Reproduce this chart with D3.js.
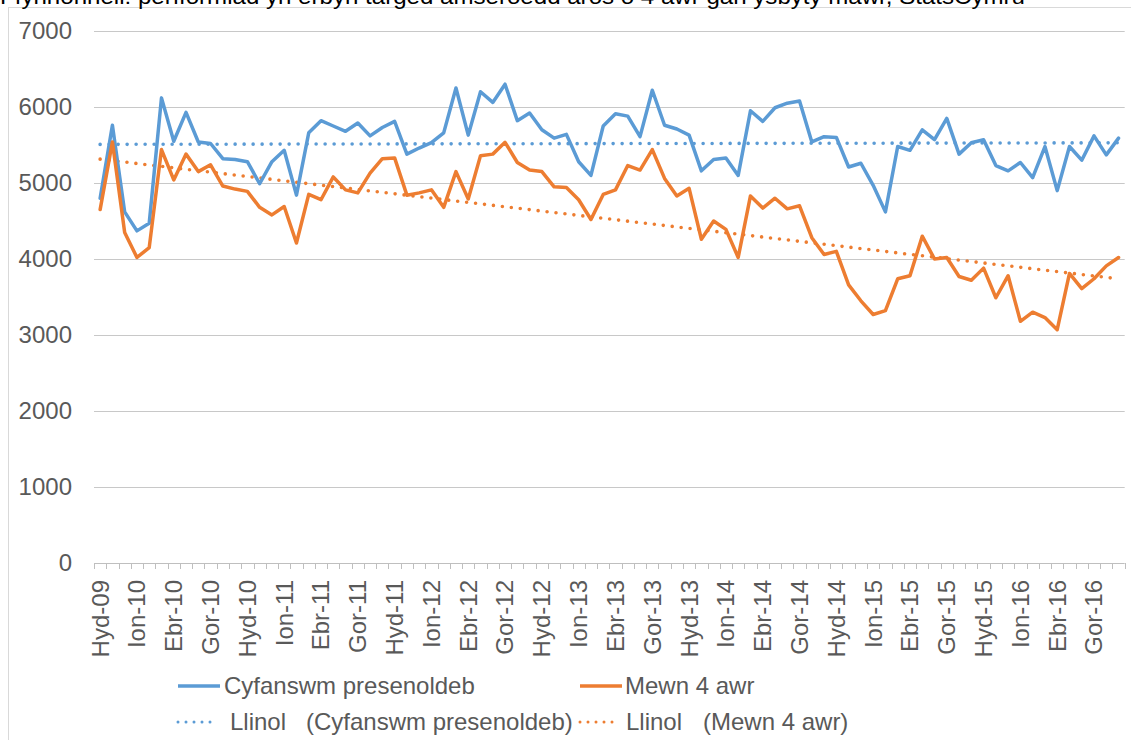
<!DOCTYPE html>
<html>
<head>
<meta charset="utf-8">
<script src="https://cdn.jsdelivr.net/npm/d3@7"></script>
<style>
  body { margin: 0; background: #fff; }
  svg { display: block; font-family: "Liberation Sans", Arial, sans-serif; }
</style>
</head>
<body>
<div id="chart"></div>
<script>
const months = [
  "Hyd-09","Tach-09","Rhag-09",
  "Ion-10","Chwe-10","Maw-10","Ebr-10","Mai-10","Meh-10","Gor-10","Awst-10","Medi-10","Hyd-10","Tach-10","Rhag-10",
  "Ion-11","Chwe-11","Maw-11","Ebr-11","Mai-11","Meh-11","Gor-11","Awst-11","Medi-11","Hyd-11","Tach-11","Rhag-11",
  "Ion-12","Chwe-12","Maw-12","Ebr-12","Mai-12","Meh-12","Gor-12","Awst-12","Medi-12","Hyd-12","Tach-12","Rhag-12",
  "Ion-13","Chwe-13","Maw-13","Ebr-13","Mai-13","Meh-13","Gor-13","Awst-13","Medi-13","Hyd-13","Tach-13","Rhag-13",
  "Ion-14","Chwe-14","Maw-14","Ebr-14","Mai-14","Meh-14","Gor-14","Awst-14","Medi-14","Hyd-14","Tach-14","Rhag-14",
  "Ion-15","Chwe-15","Maw-15","Ebr-15","Mai-15","Meh-15","Gor-15","Awst-15","Medi-15","Hyd-15","Tach-15","Rhag-15",
  "Ion-16","Chwe-16","Maw-16","Ebr-16","Mai-16","Meh-16","Gor-16","Awst-16","Medi-16"
];

// Cyfanswm presenoldeb (total attendances)
const totalAttendance = [
  4800,5760,4620,4370,4470,6120,5550,5930,5540,5520,
  5320,5310,5280,4990,5280,5430,4840,5660,5820,5750,
  5680,5790,5620,5730,5810,5380,5460,5530,5660,6250,
  5630,6200,6060,6300,5820,5920,5700,5590,5640,5280,
  5100,5750,5910,5880,5610,6220,5760,5710,5630,5160,
  5310,5330,5100,5950,5810,5990,6050,6080,5540,5610,
  5600,5210,5260,4970,4620,5480,5430,5700,5570,5850,
  5380,5530,5570,5230,5160,5270,5070,5480,4900,5480,
  5300,5620,5370,5590
];

// Mewn 4 awr (within 4 hours)
const within4Hours = [
  4650,5540,4350,4020,4150,5440,5040,5380,5150,5240,
  4960,4920,4890,4680,4580,4690,4210,4850,4780,5080,
  4910,4870,5130,5320,5330,4840,4870,4910,4680,5150,
  4790,5360,5380,5535,5270,5170,5150,4950,4940,4780,
  4520,4850,4910,5230,5170,5440,5060,4830,4930,4260,
  4500,4390,4020,4830,4670,4800,4660,4700,4280,4060,
  4100,3660,3450,3270,3320,3740,3780,4300,4000,4020,
  3770,3720,3880,3490,3780,3180,3300,3230,3070,3810,
  3610,3740,3910,4020
];

const yTicks = [0, 1000, 2000, 3000, 4000, 5000, 6000, 7000];

const titleText = "Ffynhonnell: perfformiad yn erbyn targed amseroedd aros o 4 awr gan ysbyty mawr, StatsCymru";
const blue = "#5B9BD5", orange = "#ED7D31";

const margin = ({top: 31, right: 6.3, bottom: 177, left: 94});
const W = 1131, H = 740;
const width = W - margin.left - margin.right,
      height = H - margin.top - margin.bottom;

const root = d3.select("#chart")
    .append("svg")
    .attr("width", W)
    .attr("height", H);

// outer chart border
root.append("rect")
    .attr("x", 8.5).attr("y", 7.5)
    .attr("width", W + 20).attr("height", H + 20)
    .attr("fill", "none")
    .attr("stroke", "#d9d9d9");

// title sits partly above the top edge, as in the source picture
root.append("text")
    .attr("x", 0).attr("y", 4)
    .attr("font-size", 22)
    .attr("fill", "#000")
    .attr("textLength", 1025)
    .attr("lengthAdjust", "spacingAndGlyphs")
    .text(titleText);

const svg = root.append("g")
    .attr("transform", `translate(${margin.left},${margin.top})`);

const xScale = d3.scaleBand()
    .domain(months)
    .range([0, width])
    .padding(0);
const yScale = d3.scaleLinear()
    .domain([0, 7000])
    .range([height, 0]);
const cx = i => xScale(months[i]) + xScale.bandwidth() / 2;

// gridlines
svg.append("g")
    .selectAll("line")
    .data(yTicks.filter(d => d > 0))
    .join("line")
    .attr("x1", 0).attr("x2", width)
    .attr("y1", d => Math.round(yScale(d)) + 0.5)
    .attr("y2", d => Math.round(yScale(d)) + 0.5)
    .attr("stroke", "#c8c8c8")
    .attr("stroke-width", 1);

// y axis labels
let yAxis = d3.axisLeft(yScale)
    .tickValues(yTicks)
    .tickFormat(d3.format("d"))
    .tickSize(0)
    .tickPadding(22);
svg.append("g")
    .attr("class", "axis y-axis")
    .call(yAxis)
    .call(g => g.select(".domain").remove())
    .selectAll("text")
    .attr("font-size", 24)
    .attr("font-family", "Liberation Sans, Arial, sans-serif")
    .attr("fill", "#595959");

// x axis line + monthly tick marks at band edges
const xAxisG = svg.append("g")
    .attr("class", "axis x-axis")
    .attr("transform", `translate(0, ${height})`);
xAxisG.append("line")
    .attr("x1", 0).attr("x2", width)
    .attr("y1", 0.5).attr("y2", 0.5)
    .attr("stroke", "#bfbfbf");
xAxisG.selectAll(".tick-mark")
    .data(months.concat(["_end"]))
    .join("line")
    .attr("class", "tick-mark")
    .attr("x1", (d, i) => Math.round(i < months.length ? xScale(d) : width) + 0.5)
    .attr("x2", (d, i) => Math.round(i < months.length ? xScale(d) : width) + 0.5)
    .attr("y1", 0).attr("y2", 6)
    .attr("stroke", "#bfbfbf");
xAxisG.selectAll(".x-label")
    .data(months.filter((d, i) => i % 3 === 0))
    .join("text")
    .attr("class", "x-label")
    .attr("transform", d => `translate(${xScale(d) + xScale.bandwidth() / 2}, 17) rotate(-90)`)
    .attr("dy", "0.35em")
    .attr("text-anchor", "end")
    .attr("font-size", 24)
    .attr("fill", "#595959")
    .text(d => d);

// linear trend (least squares on index)
function trend(values) {
    const n = values.length;
    const mx = d3.mean(values, (d, i) => i);
    const my = d3.mean(values);
    let sxy = 0, sxx = 0;
    values.forEach((v, i) => { sxy += (i - mx) * (v - my); sxx += (i - mx) * (i - mx); });
    const b = sxy / sxx, a = my - b * mx;
    return [[0, a], [n - 1, a + b * (n - 1)]];
}

const line = d3.line()
    .x((d, i) => cx(i))
    .y(d => yScale(d))
    .curve(d3.curveLinear);

const series = [
    {values: totalAttendance, color: blue},
    {values: within4Hours, color: orange}
];

series.forEach(s => {
    const t = trend(s.values);
    svg.append("line")
        .attr("x1", cx(t[0][0])).attr("y1", yScale(t[0][1]))
        .attr("x2", cx(t[1][0])).attr("y2", yScale(t[1][1]))
        .attr("stroke", s.color)
        .attr("stroke-width", 3.6)
        .attr("stroke-linecap", "round")
        .attr("stroke-dasharray", "0 9");
});

series.forEach(s => {
    svg.append("path")
        .datum(s.values)
        .attr("fill", "none")
        .attr("stroke", s.color)
        .attr("stroke-width", 3.5)
        .attr("stroke-linejoin", "round")
        .attr("stroke-linecap", "round")
        .attr("d", line);
});

// legend
const legend = root.append("g").attr("font-size", 24).attr("fill", "#595959");
const legendItems = [
    {x: 178, y: 686, color: blue, dotted: false, parts: [["Cyfanswm presenoldeb", 224]]},
    {x: 580, y: 686, color: orange, dotted: false, parts: [["Mewn 4 awr", 625]]},
    {x: 178, y: 722, color: blue, dotted: true, parts: [["Llinol", 230], ["(Cyfanswm presenoldeb)", 306]]},
    {x: 580, y: 722, color: orange, dotted: true, parts: [["Llinol", 626], ["(Mewn 4 awr)", 703]]}
];
legendItems.forEach(it => {
    legend.append("line")
        .attr("x1", it.x).attr("x2", it.dotted ? it.x + 36 : it.x + 42)
        .attr("y1", it.y).attr("y2", it.y)
        .attr("stroke", it.color)
        .attr("stroke-width", it.dotted ? 3 : 3.5)
        .attr("stroke-linecap", it.dotted ? "round" : "butt")
        .attr("stroke-dasharray", it.dotted ? "0 8" : null);
    it.parts.forEach(p => {
        legend.append("text")
            .attr("x", p[1]).attr("y", it.y + 8)
            .text(p[0]);
    });
});
</script>
</body>
</html>
